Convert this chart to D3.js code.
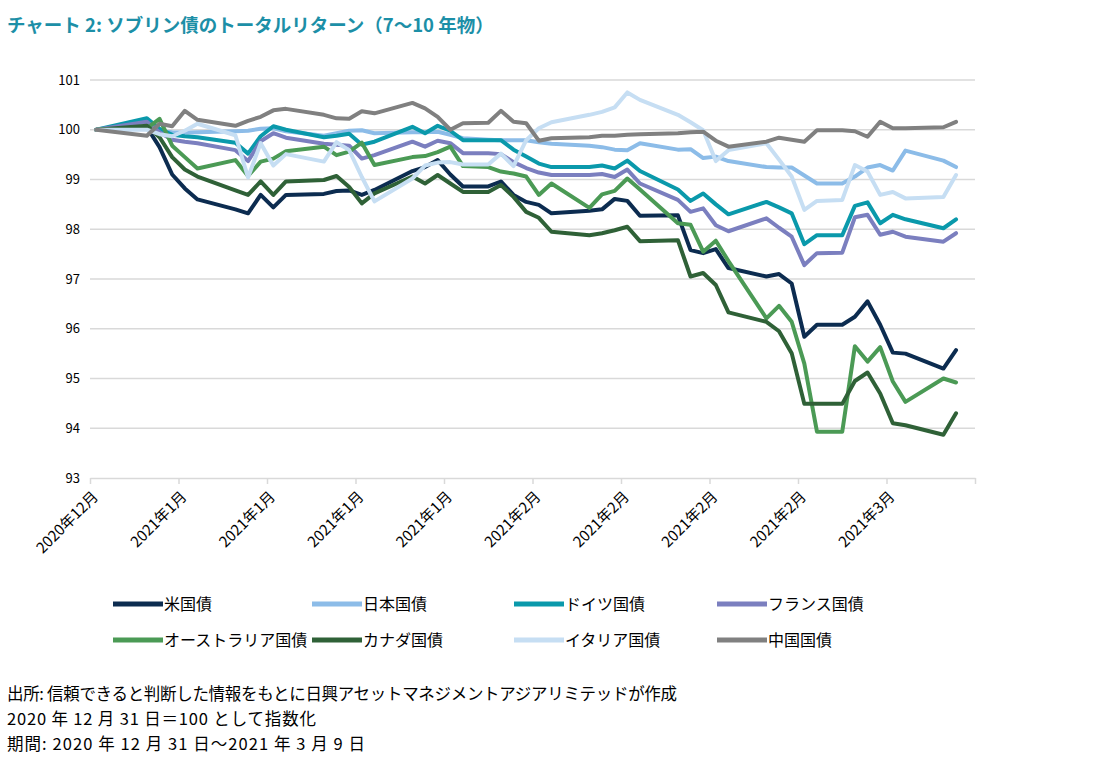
<!DOCTYPE html>
<html><head><meta charset="utf-8">
<script src="https://cdn.jsdelivr.net/npm/d3@7"></script>
<style>
body{margin:0;background:#fff;}
text{font-family:"Noto Sans CJK JP","Noto Sans",sans-serif;}
</style>
</head><body><svg id="c" width="1112" height="763"></svg>
<script>
// ---- data ----
const dates = [
"2020-12-31",
"2021-01-04","2021-01-05","2021-01-06","2021-01-07","2021-01-08",
"2021-01-11","2021-01-12","2021-01-13","2021-01-14","2021-01-15",
"2021-01-18","2021-01-19","2021-01-20","2021-01-21","2021-01-22",
"2021-01-25","2021-01-26","2021-01-27","2021-01-28","2021-01-29","2021-01-31",
"2021-02-01","2021-02-02","2021-02-03","2021-02-04","2021-02-05",
"2021-02-08","2021-02-09","2021-02-10","2021-02-11","2021-02-12",
"2021-02-15","2021-02-16","2021-02-17","2021-02-18","2021-02-19",
"2021-02-22","2021-02-23","2021-02-24","2021-02-25","2021-02-26","2021-02-28",
"2021-03-01","2021-03-02","2021-03-03","2021-03-04","2021-03-05",
"2021-03-08","2021-03-09"];

const usValues = [100,
100.05,99.65,99.1,98.82,98.6,
98.4,98.32,98.69,98.44,98.69,
98.71,98.77,98.78,98.69,98.79,
99.17,99.25,99.39,99.1,98.86,98.86,
98.96,98.69,98.55,98.49,98.32,
98.37,98.4,98.61,98.57,98.27,
98.28,97.58,97.52,97.6,97.22,
97.05,97.1,96.91,95.84,96.08,96.08,
96.24,96.55,96.08,95.52,95.5,
95.2,95.57];

const japanValues = [100,
100.02,99.97,99.95,99.94,99.95,
99.97,99.98,100.02,100.03,99.97,
99.88,99.93,99.98,99.99,99.93,
99.95,99.95,99.96,99.9,99.83,99.8,
99.79,99.79,99.79,99.75,99.72,
99.68,99.65,99.6,99.59,99.73,
99.6,99.61,99.43,99.46,99.37,
99.25,99.24,99.24,99.08,98.92,98.92,
99.06,99.24,99.29,99.18,99.58,
99.38,99.25];

const germanyValues = [100,
100.23,100.02,99.9,99.87,99.85,
99.74,99.52,99.87,100.07,100.0,
99.85,99.88,99.92,99.7,99.76,
100.06,99.93,100.08,99.98,99.79,99.79,
99.79,99.6,99.46,99.32,99.25,
99.25,99.28,99.22,99.38,99.17,
98.8,98.57,98.72,98.5,98.3,
98.55,98.44,98.32,97.7,97.88,97.88,
98.47,98.54,98.12,98.29,98.2,
98.02,98.2];

const franceValues = [100,
100.16,99.95,99.8,99.76,99.73,
99.59,99.37,99.77,99.93,99.84,
99.72,99.7,99.68,99.42,99.49,
99.76,99.66,99.78,99.73,99.53,99.53,
99.51,99.35,99.23,99.14,99.09,
99.09,99.11,99.05,99.2,98.92,
98.59,98.35,98.42,98.08,97.96,
98.22,98.03,97.85,97.28,97.52,97.53,
98.24,98.29,97.89,97.95,97.85,
97.75,97.92];

const australiaValues = [100,
100.03,100.22,99.68,99.45,99.22,
99.39,99.07,99.36,99.42,99.57,
99.66,99.49,99.56,99.74,99.29,
99.45,99.47,99.55,99.66,99.27,99.25,
99.16,99.12,99.06,98.69,98.92,
98.43,98.7,98.77,99.02,98.8,
98.12,98.09,97.55,97.77,97.36,
96.21,96.46,96.14,95.3,93.93,93.93,
95.65,95.34,95.63,94.94,94.53,
95.0,94.92];

const canadaValues = [100,
100.08,99.85,99.45,99.2,99.06,
98.78,98.69,98.96,98.69,98.96,
98.99,99.07,98.85,98.52,98.72,
99.06,98.92,99.09,98.92,98.75,98.75,
98.89,98.65,98.35,98.23,97.95,
97.88,97.92,97.98,98.05,97.76,
97.78,97.05,97.12,96.88,96.33,
96.14,95.95,95.51,94.49,94.49,94.49,
94.95,95.12,94.7,94.1,94.06,
93.87,94.3];

const italyValues = [100,
100.0,99.91,99.87,99.98,100.12,
99.89,99.04,99.73,99.28,99.51,
99.36,99.75,99.59,99.05,98.56,
99.02,99.28,99.34,99.35,99.3,99.3,
99.52,99.27,99.79,100.03,100.15,
100.3,100.36,100.45,100.75,100.6,
100.3,100.15,99.99,99.37,99.59,
99.73,99.4,99.06,98.39,98.57,98.59,
99.29,99.16,98.69,98.75,98.62,
98.65,99.09];

const chinaValues = [100,
99.88,100.12,100.07,100.38,100.2,
100.08,100.18,100.26,100.39,100.42,
100.3,100.23,100.22,100.37,100.33,
100.54,100.43,100.26,100.0,100.13,100.14,
100.38,100.16,100.13,99.78,99.83,
99.85,99.88,99.88,99.9,99.91,
99.93,99.95,99.96,99.78,99.66,
99.76,99.84,99.8,99.76,99.99,99.99,
99.97,99.86,100.16,100.03,100.03,
100.05,100.16];

const seriesNames = ["米国債","日本国債","ドイツ国債","フランス国債","オーストラリア国債","カナダ国債","イタリア国債","中国国債"];
const seriesValues = [usValues,japanValues,germanyValues,franceValues,australiaValues,canadaValues,italyValues,chinaValues];
const seriesColors = ["#0c2c50","#8cbce8","#0a99ab","#7b7fbf","#4b9a55","#2f6137","#c6def3","#808080"];

const yTickValues = [93,94,95,96,97,98,99,100,101];
const xTickLabels = ["2020年12月","2021年1月","2021年1月","2021年1月","2021年1月","2021年2月","2021年2月","2021年2月","2021年2月","2021年3月",""];
const axisStart = "2020-12-31", axisEnd = "2021-03-11";

const titleText = "チャート 2: ソブリン債のトータルリターン（7～10 年物）";
const notes = ["出所: 信頼できると判断した情報をもとに日興アセットマネジメントアジアリミテッドが作成",
"2020 年 12 月 31 日＝100 として指数化",
"期間: 2020 年 12 月 31 日～2021 年 3 月 9 日"];
const noteWidths = [670, 309, 358];

// ---- drawing ----
const svg = d3.select("#c");
const parse = d3.timeParse("%Y-%m-%d");
const L = 90, R = 975, T = 80, B = 478;
const x = d3.scaleTime().domain([parse(axisStart), parse(axisEnd)]).range([L, R]);
const y = d3.scaleLinear().domain([93, 101]).range([B, T]);
const mid = d => d3.timeHour.offset(parse(d), 12);

svg.append("text").attr("x", 7).attr("y", 32)
  .attr("font-size", 18.5).attr("font-weight", "bold").attr("fill", "#1c8fa7")
  .text(titleText);

// gridlines
svg.append("g").selectAll("line").data(yTickValues.filter(v => v > 93)).join("line")
  .attr("x1", L).attr("x2", R).attr("y1", d => y(d)).attr("y2", d => y(d))
  .attr("stroke", "#d9d9d9").attr("stroke-width", 1.5);

// y axis
const ya = svg.append("g").attr("transform", `translate(${L},0)`)
  .call(d3.axisLeft(y).tickValues(yTickValues).tickSize(0).tickPadding(10).tickFormat(d3.format("d")));
ya.select(".domain").remove();
ya.selectAll("text").attr("font-size", 13).attr("fill", "#000");

// x axis
const tickDates = d3.timeDay.range(parse(axisStart), d3.timeDay.offset(parse(axisEnd), 1)).filter((d, i) => i % 7 === 0);
const xa = svg.append("g").attr("transform", `translate(0,${B})`)
  .call(d3.axisBottom(x).tickValues(tickDates).tickSize(6).tickSizeOuter(0)
    .tickFormat((d, i) => xTickLabels[i]));
xa.select(".domain").attr("stroke", "#d9d9d9").attr("stroke-width", 1.5);
xa.selectAll(".tick line").attr("stroke", "#d9d9d9").attr("stroke-width", 1.5);
xa.selectAll("text").attr("font-size", 15).attr("fill", "#000")
  .attr("text-anchor", "end").attr("y", 0).attr("dy", "0.35em")
  .attr("transform", "translate(5,16) rotate(-45)");

// lines
const line = d3.line().x((d, i) => x(mid(dates[i]))).y(d => y(d));
svg.append("g").selectAll("path").data(seriesValues).join("path")
  .attr("d", d => line(d)).attr("fill", "none")
  .attr("stroke", (d, i) => seriesColors[i]).attr("stroke-width", 4)
  .attr("stroke-linejoin", "round").attr("stroke-linecap", "round");

// legend
const legX = [113, 312, 514, 717], legY = [604, 640];
const lg = svg.append("g").selectAll("g").data(seriesNames).join("g")
  .attr("transform", (d, i) => `translate(${legX[i % 4]},${legY[Math.floor(i / 4)]})`);
lg.append("line").attr("x1", 0).attr("x2", 50).attr("y1", 0).attr("y2", 0)
  .attr("stroke", (d, i) => seriesColors[i]).attr("stroke-width", 5);
lg.append("text").attr("x", 51).attr("y", 0).attr("dy", "0.36em")
  .attr("font-size", 16).attr("fill", "#000").text(d => d);

// notes
svg.append("g").selectAll("text").data(notes).join("text")
  .attr("x", 7).attr("y", (d, i) => 700 + i * 25)
  .attr("font-size", 16.5).attr("fill", "#000")
  .attr("textLength", (d, i) => noteWidths[i]).attr("lengthAdjust", "spacing")
  .text(d => d);
</script>
</body></html>
